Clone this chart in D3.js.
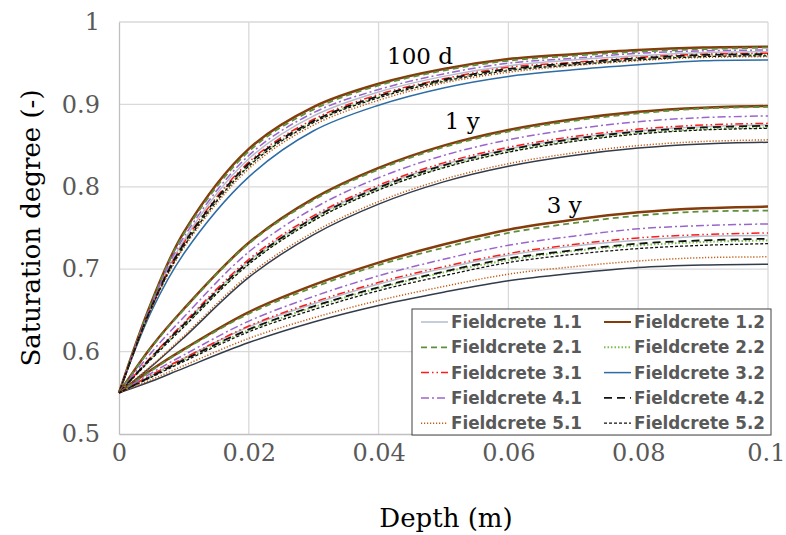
<html>
<head>
<meta charset="utf-8">
<script src="https://d3js.org/d3.v7.min.js"></script>
<style>
body { margin: 0; background: #fff; }
.tick text { font-family: "DejaVu Serif", serif; fill: #595959; }
.legend text { font-family: "DejaVu Sans", sans-serif; font-weight: bold; fill: #595959; }
</style>
</head>
<body>
<svg width="786" height="535"></svg>
<script>
var depth = [0, 0.005, 0.01, 0.02, 0.03, 0.04, 0.05, 0.06, 0.07, 0.08, 0.09, 0.1];

var names = ["Fieldcrete 1.1", "Fieldcrete 1.2", "Fieldcrete 2.1", "Fieldcrete 2.2", "Fieldcrete 3.1",
             "Fieldcrete 3.2", "Fieldcrete 4.1", "Fieldcrete 4.2", "Fieldcrete 5.1", "Fieldcrete 5.2"];

var groupLabels = ["100 d", "1 y", "3 y"];

// saturation degree after 100 days, one row per series (same order as names)
var sat100d = [
  [0.550, 0.656, 0.735, 0.834, 0.886, 0.915, 0.934, 0.947, 0.954, 0.959, 0.963, 0.964],
  [0.550, 0.660, 0.745, 0.846, 0.897, 0.925, 0.943, 0.955, 0.961, 0.966, 0.969, 0.970],
  [0.550, 0.659, 0.743, 0.843, 0.894, 0.923, 0.941, 0.953, 0.959, 0.964, 0.967, 0.969],
  [0.550, 0.653, 0.729, 0.826, 0.879, 0.909, 0.929, 0.942, 0.949, 0.955, 0.959, 0.960],
  [0.550, 0.654, 0.732, 0.830, 0.882, 0.912, 0.931, 0.945, 0.951, 0.957, 0.961, 0.962],
  [0.550, 0.649, 0.719, 0.812, 0.868, 0.899, 0.920, 0.934, 0.942, 0.948, 0.953, 0.954],
  [0.550, 0.657, 0.739, 0.838, 0.890, 0.918, 0.937, 0.950, 0.956, 0.962, 0.965, 0.966],
  [0.550, 0.654, 0.731, 0.828, 0.880, 0.910, 0.930, 0.943, 0.950, 0.956, 0.960, 0.961],
  [0.550, 0.652, 0.726, 0.822, 0.875, 0.905, 0.926, 0.939, 0.947, 0.953, 0.957, 0.958],
  [0.550, 0.653, 0.728, 0.825, 0.878, 0.908, 0.928, 0.941, 0.948, 0.954, 0.958, 0.959]
];

// after 1 year
var sat1y = [
  [0.550, 0.593, 0.634, 0.710, 0.763, 0.800, 0.827, 0.846, 0.859, 0.868, 0.873, 0.875],
  [0.550, 0.606, 0.652, 0.732, 0.786, 0.823, 0.850, 0.869, 0.882, 0.891, 0.896, 0.898],
  [0.550, 0.605, 0.651, 0.731, 0.784, 0.821, 0.848, 0.867, 0.880, 0.889, 0.895, 0.897],
  [0.550, 0.592, 0.631, 0.707, 0.760, 0.797, 0.824, 0.843, 0.856, 0.865, 0.870, 0.872],
  [0.550, 0.594, 0.635, 0.712, 0.765, 0.802, 0.829, 0.848, 0.861, 0.870, 0.875, 0.877],
  [0.550, 0.582, 0.617, 0.690, 0.742, 0.779, 0.806, 0.825, 0.838, 0.847, 0.852, 0.854],
  [0.550, 0.599, 0.642, 0.721, 0.774, 0.811, 0.838, 0.857, 0.870, 0.879, 0.884, 0.886],
  [0.550, 0.593, 0.633, 0.709, 0.762, 0.799, 0.826, 0.845, 0.858, 0.867, 0.872, 0.874],
  [0.550, 0.583, 0.619, 0.693, 0.745, 0.782, 0.809, 0.828, 0.841, 0.850, 0.855, 0.857],
  [0.550, 0.591, 0.630, 0.706, 0.759, 0.796, 0.823, 0.842, 0.855, 0.864, 0.869, 0.871]
];

// after 3 years
var sat3y = [
  [0.550, 0.571, 0.592, 0.630, 0.658, 0.682, 0.701, 0.717, 0.728, 0.735, 0.740, 0.741],
  [0.550, 0.578, 0.603, 0.648, 0.681, 0.708, 0.730, 0.748, 0.760, 0.769, 0.774, 0.776],
  [0.550, 0.577, 0.602, 0.646, 0.678, 0.705, 0.726, 0.744, 0.756, 0.765, 0.770, 0.771],
  [0.550, 0.570, 0.590, 0.626, 0.654, 0.677, 0.696, 0.711, 0.722, 0.729, 0.733, 0.735],
  [0.550, 0.572, 0.592, 0.631, 0.660, 0.684, 0.703, 0.719, 0.730, 0.738, 0.742, 0.744],
  [0.550, 0.564, 0.580, 0.611, 0.636, 0.656, 0.672, 0.686, 0.695, 0.702, 0.705, 0.706],
  [0.550, 0.574, 0.596, 0.637, 0.667, 0.692, 0.712, 0.729, 0.740, 0.749, 0.753, 0.755],
  [0.550, 0.570, 0.590, 0.627, 0.655, 0.678, 0.697, 0.713, 0.723, 0.731, 0.735, 0.737],
  [0.550, 0.566, 0.583, 0.616, 0.641, 0.662, 0.679, 0.694, 0.703, 0.710, 0.714, 0.715],
  [0.550, 0.569, 0.588, 0.624, 0.651, 0.674, 0.692, 0.708, 0.718, 0.725, 0.729, 0.731]
];

var xTicks = [0, 0.02, 0.04, 0.06, 0.08, 0.1];
var yTicks = [0.5, 0.6, 0.7, 0.8, 0.9, 1];

// line look of each series
var styles = [
  {color: "#b4bdcb", width: 1.5, dash: null},
  {color: "#843c0c", width: 2.5, dash: null},
  {color: "#5f8f3c", width: 1.8, dash: "6,4"},
  {color: "#7cc04a", width: 2, dash: "1.5,2"},
  {color: "#ff1a1a", width: 1.5, dash: "8,3,1.5,3,1.5,3"},
  {color: "#2e6ca4", width: 1.5, dash: null},
  {color: "#9a66cc", width: 1.5, dash: "8,3,2,3"},
  {color: "#111111", width: 1.8, dash: "8,5"},
  {color: "#c55a11", width: 1.5, dash: "1.2,1.8"},
  {color: "#111111", width: 1.3, dash: "3,2"}
];

var svg = d3.select("svg");
var x = d3.scaleLinear().domain([0, 0.1]).range([119, 768]);
var y = d3.scaleLinear().domain([0.5, 1]).range([434, 22]);

// grid
svg.append("g").selectAll("line").data(xTicks.slice(1)).enter().append("line")
  .attr("x1", d => x(d)).attr("x2", d => x(d)).attr("y1", y(0.5)).attr("y2", y(1))
  .attr("stroke", "#d9d9d9").attr("stroke-width", 1.3);
svg.append("g").selectAll("line").data(yTicks.slice(1)).enter().append("line")
  .attr("x1", x(0)).attr("x2", x(0.1)).attr("y1", d => y(d)).attr("y2", d => y(d))
  .attr("stroke", "#d9d9d9").attr("stroke-width", 1.3);

// axes
var xAxis = svg.append("g").attr("transform", "translate(0," + y(0.5) + ")")
  .call(d3.axisBottom(x).tickValues(xTicks).tickSize(0).tickPadding(10).tickFormat(d3.format("")));
var yAxis = svg.append("g").attr("transform", "translate(" + x(0) + ",0)")
  .call(d3.axisLeft(y).tickValues(yTicks).tickSize(0).tickPadding(19).tickFormat(d3.format("")));
xAxis.select(".domain").attr("stroke", "#bfbfbf").attr("stroke-width", 1.3);
yAxis.select(".domain").attr("stroke", "#bfbfbf").attr("stroke-width", 1.3);
svg.selectAll(".tick text").style("font-size", "24px");
// last label sits against the right edge
xAxis.selectAll(".tick text").filter(d => d == 0.1).attr("text-anchor", "end").attr("x", 17);

svg.append("text").attr("x", 446).attr("y", 527).attr("text-anchor", "middle")
  .style("font-family", "DejaVu Serif, serif").style("font-size", "26px").text("Depth (m)");
svg.append("text").attr("transform", "translate(40,228) rotate(-90)").attr("text-anchor", "middle")
  .style("font-family", "DejaVu Serif, serif").style("font-size", "26px").text("Saturation degree (-)");

// curves
var line = d3.line().x((d, i) => x(depth[i])).y(d => y(d)).curve(d3.curveCatmullRom.alpha(0.5));
[sat100d, sat1y, sat3y].forEach(function (group, gi) {
  svg.append("g").selectAll("path").data(group).enter().append("path")
    .attr("d", line)
    .attr("fill", "none")
    .attr("stroke", (d, i) => (i == 5 && gi > 0) ? "#323c4b" : styles[i].color)
    .attr("stroke-width", (d, i) => styles[i].width)
    .attr("stroke-dasharray", (d, i) => styles[i].dash);
});

// time labels
var labelPos = [[0.0413, 0.949], [0.0502, 0.870], [0.0659, 0.768]];
svg.append("g").selectAll("text").data(groupLabels).enter().append("text")
  .attr("x", (d, i) => x(labelPos[i][0])).attr("y", (d, i) => y(labelPos[i][1]))
  .style("font-family", "DejaVu Serif, serif").style("font-size", "23px").text(d => d);

// legend
var lg = svg.append("g").attr("class", "legend");
lg.append("rect").attr("x", 412).attr("y", 309).attr("width", 359).attr("height", 126)
  .attr("fill", "#fff").attr("stroke", "#404040").attr("stroke-width", 1);
var items = lg.selectAll("g").data(names).enter().append("g")
  .attr("transform", (d, i) => "translate(" + (i % 2 == 0 ? 421 : 604) + "," + (322 + Math.floor(i / 2) * 25.3) + ")");
items.append("line").attr("x1", 0).attr("x2", 27).attr("y1", 0).attr("y2", 0)
  .attr("stroke", (d, i) => styles[i].color)
  .attr("stroke-width", (d, i) => Math.min(styles[i].width, 2))
  .attr("stroke-dasharray", (d, i) => styles[i].dash);
items.append("text").attr("x", 30).attr("y", 0).attr("dy", "0.36em")
  .style("font-size", "16.8px").text(d => d);
</script>
</body>
</html>
